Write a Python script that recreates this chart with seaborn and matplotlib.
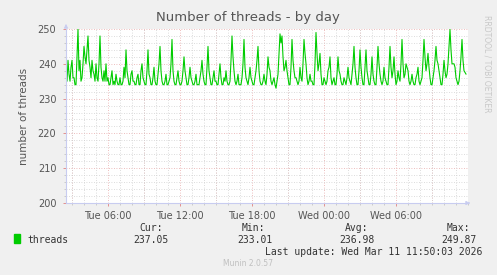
import numpy as np
import pandas as pd
import matplotlib
matplotlib.use("Agg")
import matplotlib.pyplot as plt
import matplotlib.dates as mdates
import seaborn as sns

# ---- data (5-minute samples, Tue 2026-03-10 02:30 -> Wed 11:50) ----
start_time = "2026-03-10 02:30"
step = "5min"
threads = [
    238, 235, 241, 237, 235, 239, 241, 236, 236, 234, 234, 242, 250, 238, 241, 235, 236, 240, 245, 242,
    240, 244, 248, 241, 239, 236, 241, 238, 237, 235, 240, 236, 235, 240, 248, 239, 236, 235, 238, 235,
    240, 235, 236, 234, 234, 236, 238, 234, 235, 234, 237, 235, 234, 234, 236, 234, 234, 235, 239, 236,
    244, 238, 236, 234, 234, 237, 238, 235, 235, 234, 234, 236, 237, 234, 234, 238, 240, 236, 235, 234,
    234, 238, 244, 237, 236, 234, 234, 236, 239, 235, 234, 234, 237, 240, 245, 238, 235, 234, 234, 235,
    237, 234, 234, 235, 236, 240, 247, 238, 235, 234, 234, 236, 238, 235, 234, 234, 235, 238, 242, 238,
    236, 234, 234, 236, 239, 236, 235, 234, 234, 235, 237, 234, 234, 234, 236, 238, 241, 237, 235, 234,
    234, 239, 245, 238, 236, 234, 234, 236, 238, 235, 235, 234, 234, 237, 240, 236, 234, 234, 236, 235,
    238, 235, 234, 234, 235, 241, 248, 242, 238, 235, 234, 235, 237, 234, 234, 234, 236, 240, 247, 239,
    236, 235, 234, 236, 239, 236, 235, 234, 234, 236, 238, 241, 245, 238, 235, 234, 234, 235, 237, 235,
    234, 237, 242, 239, 238, 235, 234, 235, 236, 234, 233, 235, 237, 243, 248.6, 246, 248, 242, 238, 239,
    241, 238, 236, 234, 234, 239, 247, 241, 238, 236, 236, 235, 234, 235, 239, 236, 235, 240, 247, 243,
    240, 236, 234, 235, 237, 235, 235, 234, 234, 240, 249, 243, 238, 240, 243, 237, 234, 234, 236, 235,
    234, 235, 238, 239, 242, 236, 234, 235, 236, 234, 234, 237, 242, 238, 237, 235, 234, 234, 236, 235,
    234, 236, 239, 236, 235, 234, 237, 240, 245, 239, 236, 234, 234, 238, 244, 239, 236, 234, 234, 239,
    244, 238, 236, 234, 234, 237, 242, 237, 235, 234, 234, 239, 245, 240, 237, 235, 234, 235, 239, 236,
    235, 234, 234, 239, 245, 239, 236, 238, 242, 237, 234, 235, 238, 236, 235, 240, 247, 240, 236, 237,
    240, 239, 238, 235, 234, 235, 237, 235, 234, 234, 236, 237, 239, 235, 234, 235, 236, 241, 247, 242,
    238, 240, 243, 239, 236, 234, 234, 236, 238, 241, 245, 241, 240, 238, 236, 234, 234, 237, 241, 238,
    236, 237, 240, 245, 249.87, 244, 240, 240, 240, 239, 236, 235, 234, 235, 238, 242, 247, 241, 238, 237.5,
    237.05,
]
series_name = "threads"
stat_labels = ["Cur:", "Min:", "Avg:", "Max:"]
stat_values = ["237.05", "233.01", "236.98", "249.87"]
title = "Number of threads - by day"
ylabel = "number of threads"
last_update = "Last update: Wed Mar 11 11:50:03 2026"
footer = "Munin 2.0.57"
side_text = "RRDTOOL / TOBI OETIKER"

times = pd.date_range(start_time, periods=len(threads), freq=step)
df = pd.DataFrame({"time": times, "value": threads})

W, H = 497, 275
fig = plt.figure(figsize=(W / 100, H / 100), dpi=100, facecolor="#F0F0F0")
L, R, T, B = 66, 468, 29, 203
ax = fig.add_axes([L / W, 1 - B / H, (R - L) / W, (B - T) / H])
ax.set_facecolor("white")

sns.lineplot(data=df, x="time", y="value", ax=ax, color="#00CC00",
             linewidth=0.8, legend=False)

x0 = pd.Timestamp(start_time)
x1 = x0 + pd.Timedelta(minutes=5 * 402)
ax.set_xlim(x0, x1)
ax.set_ylim(200, 250)

lab_loc = mdates.HourLocator(byhour=[0, 6, 12, 18])
lab_ticks = [t for t in lab_loc.tick_values(x0, x1)
             if mdates.date2num(x0) < t < mdates.date2num(x1) - 0.01]
ax.set_xticks(lab_ticks)
ax.xaxis.set_major_formatter(mdates.DateFormatter("%a %H:%M"))
ax.xaxis.set_minor_locator(mdates.HourLocator())
ax.set_yticks([200, 210, 220, 230, 240, 250])
ax.set_yticks(np.arange(200, 251, 2), minor=True)

# grids
ax.grid(which="minor", color="#D0D0D0", linestyle=(0, (1, 2)), linewidth=0.6)
ax.grid(False, which="major")
major_x = mdates.HourLocator(byhour=[0, 3, 6, 9, 12, 15, 18, 21])
for t in major_x.tick_values(x0, x1):
    ax.axvline(t, color="#E8A8A8", linestyle=(0, (1, 2)), linewidth=0.6, zorder=0.5)
for v in [210, 220, 230, 240, 250]:
    ax.axhline(v, color="#E8A8A8", linestyle=(0, (1, 2)), linewidth=0.6, zorder=0.5)
ax.set_axisbelow(True)

ax.tick_params(axis="both", which="major", labelsize=7, colors="#E08080",
               length=2, width=0.6, labelcolor="#555555")
ax.tick_params(axis="both", which="minor", length=1.5, width=0.5, colors="#BBBBBB")
ax.tick_params(axis="y", pad=5)
ax.tick_params(axis="x", pad=4)

for s in ["top", "right"]:
    ax.spines[s].set_visible(False)
for s in ["left", "bottom"]:
    ax.spines[s].set_color("#C8CCF0")
    ax.spines[s].set_linewidth(0.8)
ax.set_xlabel("")
ax.set_ylabel(ylabel, fontsize=7.5, color="#555555", labelpad=6)

# arrows
ax.annotate("", xy=(0, 1.045), xytext=(0, 0.99), xycoords="axes fraction",
            arrowprops=dict(arrowstyle="-|>", color="#C8CCF0", lw=0.6,
                            mutation_scale=6), annotation_clip=False)
ax.annotate("", xy=(1.012, 0), xytext=(0.995, 0), xycoords="axes fraction",
            arrowprops=dict(arrowstyle="-|>", color="#C8CCF0", lw=0.6,
                            mutation_scale=6), annotation_clip=False)

def fx(px):
    return px / W

def fy(py):
    return 1 - py / H

fig.text(fx(248), fy(18), title, ha="center", va="center", fontsize=9.5,
         color="#555555")
fig.text(fx(487), fy(15), side_text, ha="center", va="top", rotation=270,
         fontsize=5.5, color="#C8C8C8")

mono = "DejaVu Sans Mono"
fig.patches.append(plt.Rectangle((fx(14), fy(243)), 6 / W, 9 / H,
                                 transform=fig.transFigure, color="#00CC00"))
fig.text(fx(27), fy(240), series_name, ha="left", va="center", family=mono,
         fontsize=7, color="#333333")
label_x = [163, 265, 368, 470]
value_x = [169, 273, 375, 477]
for lx, vx, lab, val in zip(label_x, value_x, stat_labels, stat_values):
    fig.text(fx(lx), fy(228), lab, ha="right", va="center", family=mono,
             fontsize=7, color="#333333")
    fig.text(fx(vx), fy(240), val, ha="right", va="center", family=mono,
             fontsize=7, color="#333333")
fig.text(fx(482), fy(252), last_update, ha="right", va="center", family=mono,
         fontsize=7, color="#333333")
fig.text(fx(248), fy(263), footer, ha="center", va="center", fontsize=5.5,
         color="#C0C0C0")

fig.savefig("out.png", dpi=100, facecolor=fig.get_facecolor())
